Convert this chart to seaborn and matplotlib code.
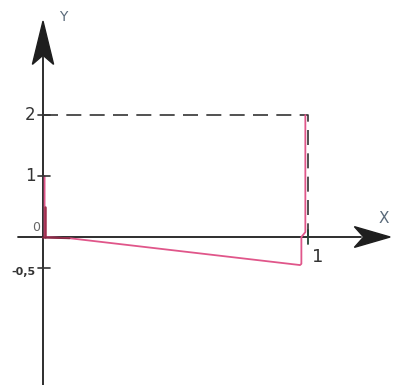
import numpy as np
import pandas as pd
import matplotlib
matplotlib.use("Agg")
import matplotlib.pyplot as plt
from matplotlib.patches import Polygon
import seaborn as sns

# pink curve
curva_x = [0.006, 0.006, 0.006, 0.10, 0.97, 0.975, 0.975, 0.99, 0.99]
curva_y = [1.0, 0.5, 0.0, -0.02, -0.46, -0.44, 0.0, 0.08, 2.0]

# dashed rectangle (y=2 up to x=1)
rect_x = [0.0, 1.0, 1.0]
rect_y = [2.0, 2.0, 0.0]

ticks_y = [2, 1, -0.5]
ticks_y_txt = ["2", "1", "-0,5"]
ticks_x = [1]
ticks_x_txt = ["1"]

sns.set_style("white")
plt.rcParams['font.family'] = ['DejaVu Sans']

fig = plt.figure(figsize=(3.96, 3.85), dpi=100)
ax = fig.add_axes([0, 0, 1, 1])
ax.set_xlim(-43 / 265, (396 - 43) / 265)
ax.set_ylim(-(385 - 237) / 61, 237 / 61)
ax.axis("off")

df_curva = pd.DataFrame({"x": curva_x, "y": curva_y})
df_rect = pd.DataFrame({"x": rect_x, "y": rect_y})

eje = "#1e1e1e"
# ejes
ax.plot([-0.095, 1.2], [0, 0], color=eje, lw=1.3)
ax.plot([0, 0], [-2.45, 3.0], color=eje, lw=1.3)
# puntas de flecha (tipo stealth)
ax.add_patch(Polygon([(1.31, 0), (1.175, 0.17), (1.21, 0), (1.175, -0.17)],
                     closed=True, color=eje))
ax.add_patch(Polygon([(0, 3.54), (0.04, 2.83), (0, 2.98), (-0.04, 2.83)],
                     closed=True, color=eje))

sns.lineplot(data=df_rect, x="x", y="y", sort=False, color="#333333",
             lw=1.2, ax=ax, estimator=None)
ax.lines[-1].set_dashes([9, 5])
sns.lineplot(data=df_curva, x="x", y="y", sort=False, color="#e0568a",
             lw=1.3, ax=ax, estimator=None)
ax.plot([0.006, 0.006], [0, 0.5], color="#a0304f", lw=1.8)
ax.plot([0.0, 0.1], [-0.01, -0.02], color="#8a2a45", lw=1.4)

for v, t in zip(ticks_y, ticks_y_txt):
    ax.plot([-0.02, 0.025], [v, v], color="#333333", lw=1.2)
    if t == "-0,5":
        ax.text(-0.028, v - 0.08, t, ha="right", va="center", fontsize=8,
                color="#333333", fontweight="bold")
    else:
        ax.text(-0.028, v, t, ha="right", va="center", fontsize=12, color="#333333")
ax.text(-0.01, 0.16, "0", ha="right", va="center", fontsize=9, color="#666666")
for v, t in zip(ticks_x, ticks_x_txt):
    ax.plot([v, v], [-0.12, 0.12], color="#224433", lw=1.3)
    ax.text(v + 0.038, -0.33, t, ha="center", va="center", fontsize=13, color="#333333")

ax.text(0.075, 3.6, "Y", ha="center", va="center", fontsize=10, color="#5a6a7a")
ax.text(1.285, 0.31, "X", ha="center", va="center", fontsize=11, color="#5a6a7a")

fig.savefig("out.png", dpi=100)
